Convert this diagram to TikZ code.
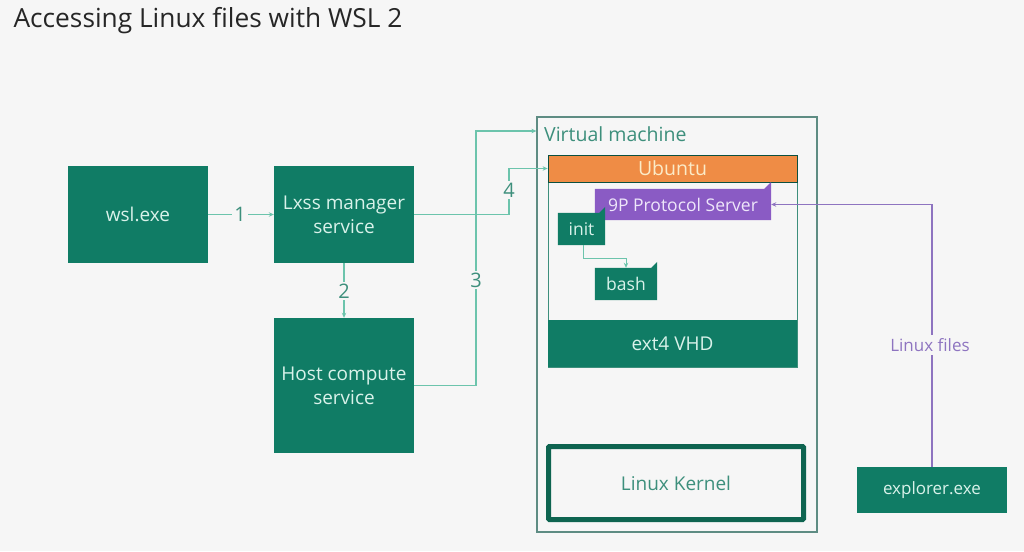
\documentclass[tikz,border=0pt]{standalone}
\usepackage{fontspec}
\setmainfont{Open Sans}
\usetikzlibrary{arrows.meta}
\definecolor{bg}{HTML}{F6F6F6}
\definecolor{teal}{HTML}{107C65}
\definecolor{tealtxt}{HTML}{D9F2EA}
\definecolor{conn}{HTML}{6CC4AC}
\definecolor{numc}{HTML}{3D8F7C}
\definecolor{vmline}{HTML}{5E8C83}
\definecolor{kern}{HTML}{0E6450}
\definecolor{ubu}{HTML}{EF8C45}
\definecolor{ubutxt}{HTML}{FBEBC8}
\definecolor{purp}{HTML}{8A5BC4}
\definecolor{purptxt}{HTML}{EEE6FA}
\definecolor{purpline}{HTML}{8E74C0}
\tikzset{
  tbox/.style={fill=teal, text=tealtxt, align=center, font=\fontsize{19}{24}\selectfont, inner sep=0pt},
  tag/.style={inner sep=0pt, text=tealtxt, font=\fontsize{17.5}{20}\selectfont},
  conline/.style={draw=conn, line width=1.3pt},
  conarrow/.style={conline, -{Stealth[length=5pt,width=4.5pt]}},
  numlbl/.style={fill=bg, text=numc, font=\fontsize{20}{22}\selectfont, inner sep=2pt},
  purparrow/.style={draw=purpline, line width=1.3pt, -{Stealth[length=5pt,width=4.5pt]}},
}
\begin{document}
\begin{tikzpicture}[x=1pt,y=-1pt]
\fill[bg] (0,0) rectangle (1024,551);
\useasboundingbox (0,0) rectangle (1024,551);
\node[anchor=west, font=\fontsize{26.3}{30}\selectfont, text=black!85] (title) at (10,21) {Accessing Linux files with WSL 2};

% left boxes
\node[tbox, minimum width=140pt, minimum height=97pt] (wsl) at (138,214.5) {wsl.exe};
\node[tbox, minimum width=140pt, minimum height=97pt] (lxss) at (344,214.5) {Lxss manager\\service};
\node[tbox, minimum width=140pt, minimum height=135pt] (host) at (344,385.5) {Host compute\\service};

% VM
\node[draw=vmline, line width=1.2pt, minimum width=280pt, minimum height=415pt, inner sep=0pt] (vm) at (677,324.5) {};
\node[anchor=west, text=numc, font=\fontsize{19.5}{22}\selectfont, inner sep=0pt] (vmlbl) at (544,134) {Virtual machine};

\node[draw=numc, line width=1pt, minimum width=249pt, minimum height=212pt, inner sep=0pt] (ubox) at (672.5,261) {};
\node[fill=ubu, draw=kern!80!black, line width=0.8pt, minimum width=249pt, minimum height=27pt, inner sep=0pt, text=ubutxt, font=\fontsize{19.5}{22}\selectfont] (ubar) at (672.5,168.5) {Ubuntu};
\node[tbox, minimum width=249pt, minimum height=47pt] (ext4) at (672.5,343.5) {ext4 VHD};

% 9P server
\node[minimum width=176pt, minimum height=31pt, inner sep=0pt] (nine) at (683,204.5) {};
\fill[purp] (nine.south west) -- (nine.north west) -- ([xshift=-7pt]nine.north east) -- ([yshift=7pt]nine.north east) -- (nine.south east) -- cycle;
\node[tag, text=purptxt] at (nine) {9P Protocol Server};

% init
\node[minimum width=47pt, minimum height=32pt, inner sep=0pt] (init) at (581.5,229) {};
\fill[teal] (init.south west) -- (init.north west) -- ([xshift=-6pt]init.north east) -- ([yshift=6pt]init.north east) -- (init.south east) -- cycle;
\node[tag] at (init) {init};

% bash
\node[minimum width=62pt, minimum height=32pt, inner sep=0pt] (bash) at (626,284) {};
\fill[teal] (bash.south west) -- (bash.north west) -- ([xshift=-6pt]bash.north east) -- ([yshift=6pt]bash.north east) -- (bash.south east) -- cycle;
\node[tag] at (bash) {bash};

\coordinate (ib1) at (583,258);
\draw[conarrow, line width=1pt] (583,245) -- (ib1) -| (bash.north);

% kernel
\node[draw=kern, line width=5pt, rounded corners=1pt, minimum width=255pt, minimum height=73pt, inner sep=0pt, text=numc, font=\fontsize{19}{22}\selectfont] (kernel) at (676,483) {Linux Kernel};

% explorer
\node[tbox, minimum width=150pt, minimum height=46pt, font=\fontsize{17}{20}\selectfont] (explorer) at (932,490) {explorer.exe};

% connectors
\draw[conarrow] (wsl.east) -- (lxss.west);
\node[numlbl] (n1) at (240,214.5) {1};

\draw[conarrow] (lxss.south) -- (host.north);
\node[numlbl] (n2) at (344,291) {2};

\coordinate (c3a) at (476,385.5);
\coordinate (c3b) at (476,131);
\draw[conarrow] (host.east) -- (c3a) -- (c3b) -- (c3b -| vm.west);
\node[numlbl] (n3) at (476,280) {3};

\coordinate (c4a) at (509,214.5);
\coordinate (c4b) at (509,168.5);
\draw[conarrow] (lxss.east) -- (c4a) -- (c4b) -- (ubar.west);
\node[numlbl] (n4) at (509,190) {4};

\coordinate (lf) at (932,204.5);
\draw[purparrow] (explorer.north) -- (lf) -- (nine.east);
\node[fill=bg, text=purpline, font=\fontsize{17}{20}\selectfont, inner sep=3pt] (lfl) at (930,345) {Linux files};
\end{tikzpicture}
\end{document}
